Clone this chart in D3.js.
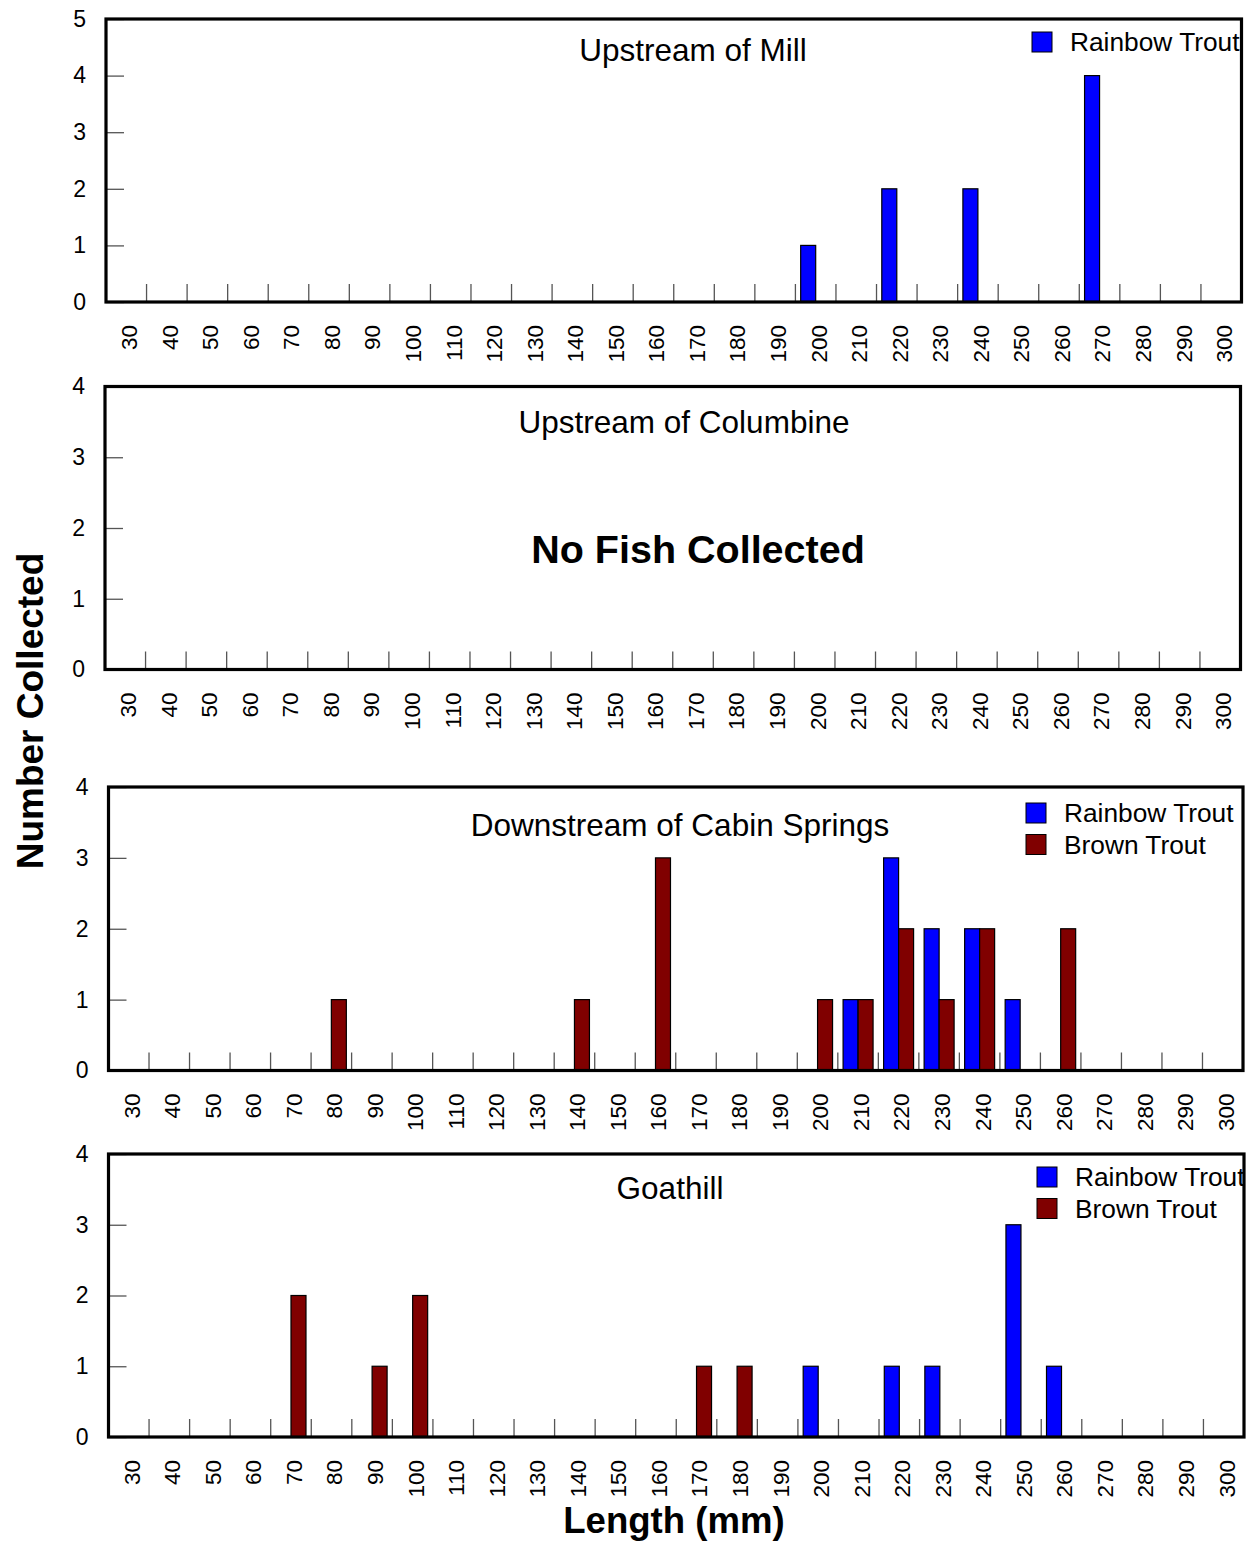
<!DOCTYPE html>
<html>
<head>
<script src="https://cdn.jsdelivr.net/npm/d3@7"></script>
</head>
<body style="margin: 0; background: #ffffff;">
<div id="chart"></div>
<script>

    'use strict';

    // length classes (mm)
    var lengths = [30, 40, 50, 60, 70, 80, 90, 100, 110, 120, 130, 140, 150, 160, 170,
                   180, 190, 200, 210, 220, 230, 240, 250, 260, 270, 280, 290, 300];
    var species = ["Rainbow Trout", "Brown Trout"];
    var speciesColor = ["#0000ff", "#800000"];

    // counts per site, [length, count]
    var millRainbow = [[200, 1], [220, 2], [240, 2], [270, 4]];
    var millBrown = [];
    var columbineRainbow = [];
    var columbineBrown = [];
    var cabinRainbow = [[210, 1], [220, 3], [230, 2], [240, 2], [250, 1]];
    var cabinBrown = [[80, 1], [140, 1], [160, 3], [200, 1], [210, 1], [220, 2], [230, 1], [240, 2], [260, 2]];
    var goatRainbow = [[200, 1], [220, 1], [230, 1], [250, 3], [260, 1]];
    var goatBrown = [[70, 2], [90, 1], [100, 2], [170, 1], [180, 1]];

    var siteNames = ["Upstream of Mill", "Upstream of Columbine", "Downstream of Cabin Springs", "Goathill"];
    var yMax = [5, 4, 4, 4];
    var legendItems = [["Rainbow Trout"], [], ["Rainbow Trout", "Brown Trout"], ["Rainbow Trout", "Brown Trout"]];

    var siteData = [
        [millRainbow, millBrown],
        [columbineRainbow, columbineBrown],
        [cabinRainbow, cabinBrown],
        [goatRainbow, goatBrown]
    ];

    // panel frames and text spots, measured off the page
    var frames = [
        {left: 106, top: 19, right: 1241.5, bottom: 302, titleX: 693, titleY: 61, legX: 1032, legY: 32},
        {left: 105, top: 386.5, right: 1240.5, bottom: 669.5, titleX: 684, titleY: 433, legX: 0, legY: 0},
        {left: 108.5, top: 787, right: 1243, bottom: 1070.5, titleX: 680, titleY: 836, legX: 1026, legY: 803},
        {left: 108.5, top: 1154, right: 1244, bottom: 1437, titleX: 670, titleY: 1199, legX: 1037, legY: 1167}
    ];

    var W = 1252, H = 1543;
    var font = "'Liberation Sans', Arial, Helvetica, sans-serif";

    var svg = d3.select("#chart").append("svg")
        .attr("width", W)
        .attr("height", H)
        .style("font-family", font);

    frames.forEach(function(f, i) {
        var w = f.right - f.left;
        var h = f.bottom - f.top;
        var g = svg.append("g").attr("transform", "translate(" + f.left + "," + f.top + ")");

        var x0 = d3.scaleBand().domain(lengths).range([0, w]).paddingInner(0.26).paddingOuter(0.13);
        var x1 = d3.scaleBand().domain(species).range([0, x0.bandwidth()]);
        var y = d3.scaleLinear().domain([0, yMax[i]]).range([h, 0]);
        var step = x0.step();

        // y axis: labels outside, ticks inside
        var yAxis = g.append("g")
            .call(d3.axisLeft(y).ticks(yMax[i]).tickSize(-18).tickPadding(20));
        yAxis.select(".domain").remove();
        yAxis.selectAll("line").attr("stroke", "#555").attr("stroke-width", 1.3);
        yAxis.selectAll("text")
            .attr("font-size", 23)
            .attr("font-family", font)
            .attr("fill", "#000");

        // x axis labels, rotated
        var xAxis = g.append("g")
            .attr("transform", "translate(0," + h + ")")
            .call(d3.axisBottom(x0).tickSize(0));
        xAxis.select(".domain").remove();
        xAxis.selectAll("text")
            .attr("font-size", 22.5)
            .attr("font-family", font)
            .attr("fill", "#000")
            .attr("text-anchor", "end")
            .attr("x", 0)
            .attr("y", 0)
            .attr("dy", "0.35em")
            .attr("transform", "translate(3,23) rotate(-90)");

        // small tick marks between length classes
        g.append("g").selectAll("line")
            .data(lengths.slice(1))
            .join("line")
            .attr("x1", function(d) { return x0(d) - step * x0.paddingInner() / 2; })
            .attr("x2", function(d) { return x0(d) - step * x0.paddingInner() / 2; })
            .attr("y1", h)
            .attr("y2", h - 18)
            .attr("stroke", "#555")
            .attr("stroke-width", 1.3);

        // bars
        siteData[i].forEach(function(series, s) {
            g.append("g").selectAll("rect")
                .data(series)
                .join("rect")
                .attr("x", function(d) { return x0(d[0]) + x1(species[s]); })
                .attr("y", function(d) { return y(d[1]); })
                .attr("width", x1.bandwidth())
                .attr("height", function(d) { return h - y(d[1]); })
                .attr("fill", speciesColor[s])
                .attr("stroke", "#000")
                .attr("stroke-width", 1.2);
        });

        // frame
        g.append("rect")
            .attr("width", w)
            .attr("height", h)
            .attr("fill", "none")
            .attr("stroke", "#000")
            .attr("stroke-width", 3.2);

        // site name
        svg.append("text")
            .attr("x", f.titleX)
            .attr("y", f.titleY)
            .attr("text-anchor", "middle")
            .attr("font-size", 31.5)
            .text(siteNames[i]);

        // legend
        var leg = svg.append("g").attr("transform", "translate(" + f.legX + "," + f.legY + ")");
        legendItems[i].forEach(function(name, k) {
            var row = leg.append("g").attr("transform", "translate(0," + (k * 31.5) + ")");
            row.append("rect")
                .attr("width", 20)
                .attr("height", 20)
                .attr("fill", speciesColor[species.indexOf(name)])
                .attr("stroke", "#000")
                .attr("stroke-width", 1);
            row.append("text")
                .attr("x", 38)
                .attr("y", 10)
                .attr("dy", "0.35em")
                .attr("font-size", 26.3)
                .text(name);
        });
    });

    svg.append("text")
        .attr("x", 698)
        .attr("y", 563)
        .attr("text-anchor", "middle")
        .attr("font-size", 39.5)
        .attr("font-weight", "bold")
        .text("No Fish Collected");

    svg.append("text")
        .attr("transform", "translate(43,711) rotate(-90)")
        .attr("text-anchor", "middle")
        .attr("font-size", 37)
        .attr("font-weight", "bold")
        .text("Number Collected");

    svg.append("text")
        .attr("x", 674)
        .attr("y", 1533)
        .attr("text-anchor", "middle")
        .attr("font-size", 36.6)
        .attr("font-weight", "bold")
        .text("Length (mm)");

</script>
</body>
</html>
